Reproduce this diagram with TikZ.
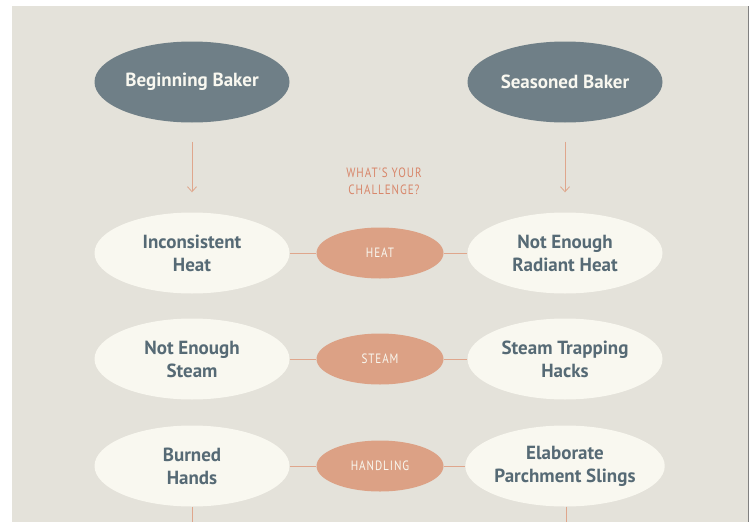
\documentclass[tikz,border=0pt]{standalone}
\usepackage{fontspec}
\setmainfont{PT Sans}
\newfontfamily\capsfont[LetterSpace=7, FakeStretch=0.82]{PT Sans}
\usepackage{tikz}
\usetikzlibrary{shapes.geometric, positioning, arrows.meta}

\definecolor{paper}{HTML}{E4E2DA}
\definecolor{slate}{HTML}{6F7F87}
\definecolor{slatetext}{HTML}{566A75}
\definecolor{cream}{HTML}{F9F8F0}
\definecolor{clay}{HTML}{DCA185}
\definecolor{claytext}{HTML}{D8876B}
\definecolor{clayline}{HTML}{DFA68C}

\tikzset{
    baker/.style={ellipse, fill=slate, text=cream, inner sep=0pt,
        minimum width=195pt, minimum height=81pt,
        font=\fontsize{19}{23}\selectfont\bfseries},
    issue/.style={ellipse, fill=cream, text=slatetext, inner sep=0pt,
        minimum width=195pt, minimum height=81pt, align=center,
        font=\fontsize{19}{23}\selectfont\bfseries},
    topic/.style={ellipse, fill=clay, text=cream, inner sep=0pt,
        minimum width=127pt, minimum height=51pt,
        font=\fontsize{13.5}{16}\selectfont\capsfont},
    link/.style={clayline, line width=0.8pt},
    flow/.style={clayline, line width=0.8pt, -{Straight Barb[length=5pt, width=9pt]}}
}

\begin{document}
\begin{tikzpicture}[x=1pt, y=-1pt]

    % page and panel
    \useasboundingbox (0,0) rectangle (755,522);
    \fill[white] (0,0) rectangle (755,522);
    \fill[paper] (12,6) rectangle (748,522);
    \draw[gray, line width=0.8pt] (748,6) -- (748,522);

    % the two kinds of baker
    \node[baker] (beginner) at (192,82) {Beginning Baker};
    \node[baker] (seasoned) at (565,82) {Seasoned Baker};

    % question in the middle
    \node[text=claytext, align=center, font=\fontsize{13.5}{17}\selectfont\capsfont]
        (question) at (384,181) {WHAT'S YOUR\\CHALLENGE?};

    % row: heat
    \node[issue] (heatL) at (192,253) {Inconsistent\\Heat};
    \node[topic] (heat) at (380,253) {HEAT};
    \node[issue] (heatR) at (565,253) {Not Enough\\Radiant Heat};

    % row: steam
    \node[issue] (steamL) at (192,359) {Not Enough\\Steam};
    \node[topic] (steam) at (380,359) {STEAM};
    \node[issue] (steamR) at (565,359) {Steam Trapping\\Hacks};

    % row: handling
    \node[issue] (handL) at (192,466) {Burned\\Hands};
    \node[topic] (hand) at (380,466) {HANDLING};
    \node[issue] (handR) at (565,466) {Elaborate\\Parchment Slings};

    % arrows down from the bakers
    \draw[flow, shorten <=19pt, shorten >=20pt] (beginner) -- (heatL);
    \draw[flow, shorten <=19pt, shorten >=20pt] (seasoned) -- (heatR);

    % links across each row
    \draw[link] (heatL) -- (heat);
    \draw[link] (heat) -- (heatR);
    \draw[link] (steamL) -- (steam);
    \draw[link] (steam) -- (steamR);
    \draw[link] (handL) -- (hand);
    \draw[link] (hand) -- (handR);

    % lines running on below the page
    \coordinate (endL) at (192,522);
    \coordinate (endR) at (566,522);
    \draw[link] (handL.south) -- (endL);
    \draw[link] ([xshift=1pt]handR.south) -- (endR);

\end{tikzpicture}
\end{document}
